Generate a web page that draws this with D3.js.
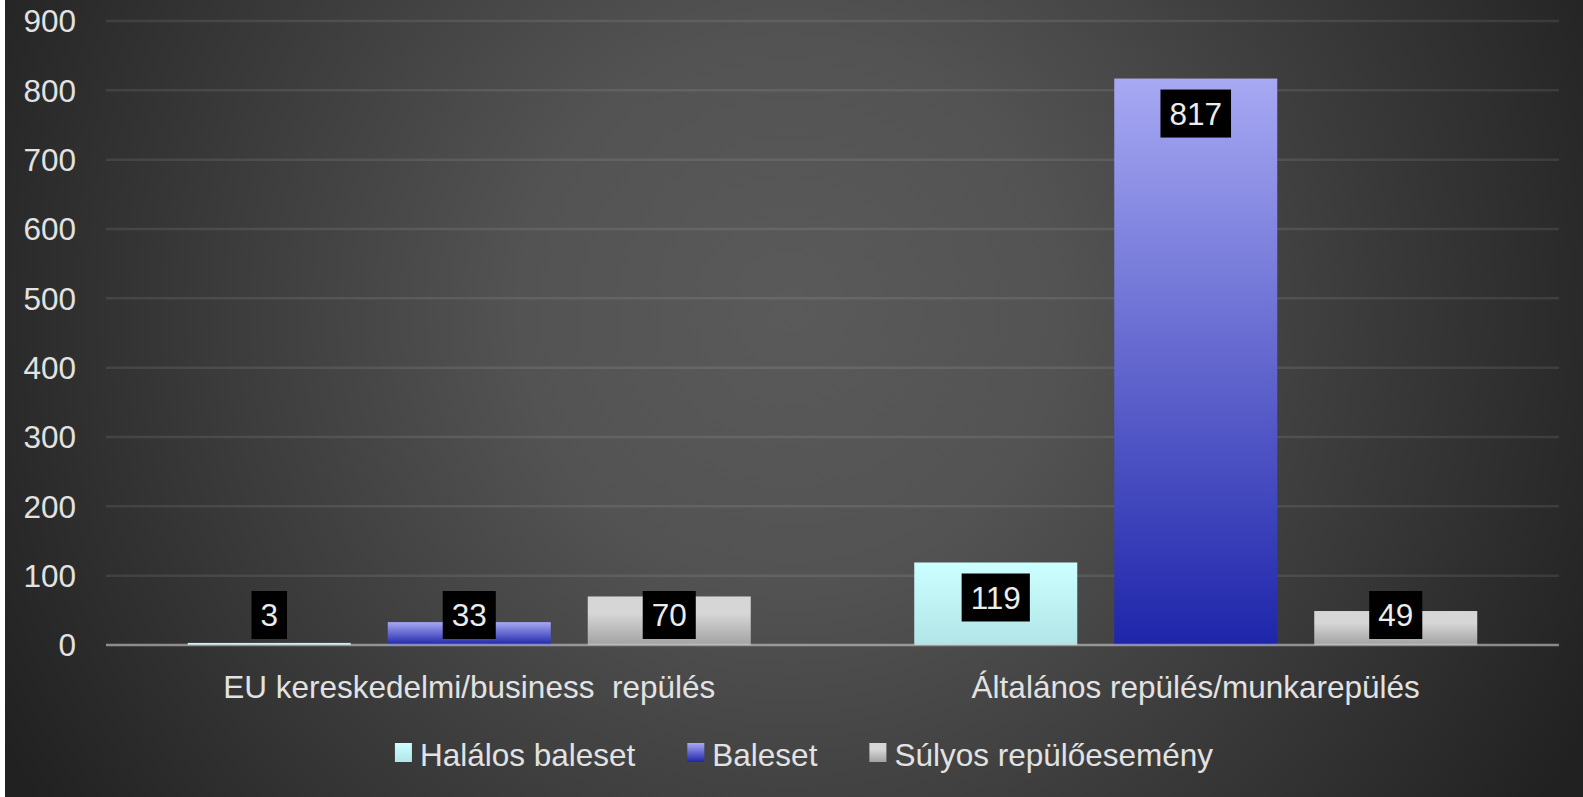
<html>
<head>
    <meta charset="utf-8">
    <script src="https://d3js.org/d3.v7.min.js"></script>
    <style>
        body { margin: 0; background: #ffffff; }
        text { font-family: "Liberation Sans", Arial, sans-serif; }
    </style>
</head>
<body>
    <svg id="chart" width="1583" height="797"></svg>
    <script>
        // chart values
        const categories = ["EU kereskedelmi/business  repülés", "Általános repülés/munkarepülés"];
        const seriesNames = ["Halálos baleset", "Baleset", "Súlyos repülőesemény"];
        const halalos = [3, 119];
        const baleset = [33, 817];
        const sulyos = [70, 49];
        const yTicks = [0, 100, 200, 300, 400, 500, 600, 700, 800, 900];

        const seriesValues = [halalos, baleset, sulyos];
        const gradients = [
            ["#ccffff", "#b2e5e7"],
            ["#a7a9f3", "#1e25aa"],
            ["#d6d6d6", "#a2a2a2"]
        ];
        const fontSize = 31.5;

        const svg = d3.select("#chart");
        const defs = svg.append("defs");

        // background radial gradient
        const bg = defs.append("radialGradient").attr("id", "bg")
            .attr("gradientUnits", "userSpaceOnUse")
            .attr("cx", 790).attr("cy", 310).attr("r", 900);
        bg.append("stop").attr("offset", 0).attr("stop-color", "#5a5a5a");
        bg.append("stop").attr("offset", 0.3).attr("stop-color", "#535353");
        bg.append("stop").attr("offset", 0.65).attr("stop-color", "#3a3a3a");
        bg.append("stop").attr("offset", 1).attr("stop-color", "#212121");

        gradients.forEach((g, i) => {
            const lg = defs.append("linearGradient").attr("id", "bar" + i)
                .attr("x1", 0).attr("y1", 0).attr("x2", 0).attr("y2", 1);
            lg.append("stop").attr("offset", 0).attr("stop-color", g[0]);
            lg.append("stop").attr("offset", i === 2 ? 0.35 : 0).attr("stop-color", g[0]);
            lg.append("stop").attr("offset", 1).attr("stop-color", g[1]);
        });

        svg.append("rect").attr("x", 5).attr("y", 0).attr("width", 1578).attr("height", 797)
            .attr("fill", "url(#bg)");

        const plotLeft = 106, plotRight = 1559, plotTop = 21, plotBottom = 645;

        const x0 = d3.scaleBand().domain(categories).range([plotLeft, plotRight]);
        const x1 = d3.scaleBand().domain(d3.range(3))
            .range([81.75, x0.bandwidth() - 81.75]).paddingInner(0.185);
        const y = d3.scaleLinear().domain([0, 900]).range([plotBottom, plotTop]);

        // gridlines
        svg.append("g").selectAll("line").data(yTicks.filter(d => d > 0)).join("line")
            .attr("x1", plotLeft).attr("x2", plotRight)
            .attr("y1", d => y(d)).attr("y2", d => y(d))
            .attr("stroke", "rgba(255,255,255,0.09)").attr("stroke-width", 2.5);

        // y tick labels
        svg.append("g").selectAll("text").data(yTicks).join("text")
            .attr("x", 76).attr("y", d => y(d))
            .attr("dy", "0.36em")
            .attr("text-anchor", "end")
            .attr("font-size", fontSize)
            .attr("fill", "#e2e2e2")
            .text(d => d);

        // bars
        const points = [];
        categories.forEach((c, ci) => {
            seriesValues.forEach((vals, si) => {
                points.push({ cat: c, s: si, v: vals[ci] });
            });
        });

        const barG = svg.append("g");
        barG.selectAll("rect").data(points).join("rect")
            .attr("x", d => x0(d.cat) + x1(d.s))
            .attr("width", x1.bandwidth())
            .attr("y", d => y(d.v))
            .attr("height", d => y(0) - y(d.v))
            .attr("fill", d => "url(#bar" + d.s + ")");

        // axis line
        svg.append("line").attr("x1", plotLeft).attr("x2", plotRight)
            .attr("y1", y(0)).attr("y2", y(0))
            .attr("stroke", "rgba(205,205,205,0.6)").attr("stroke-width", 2.5);

        // data labels (inside end, clamped above the axis)
        const lab = svg.append("g").selectAll("g").data(points).join("g");
        lab.each(function (d) {
            const g = d3.select(this);
            const cx = x0(d.cat) + x1(d.s) + x1.bandwidth() / 2;
            const boxTop = Math.min(y(d.v) + 11, y(0) - 54);
            const t = g.append("text")
                .attr("x", cx).attr("y", boxTop + 24).attr("dy", "0.36em")
                .attr("text-anchor", "middle").attr("font-size", fontSize)
                .attr("fill", "#ececec").text(d.v);
            const w = t.node().getComputedTextLength() + 18;
            g.insert("rect", "text").attr("x", cx - w / 2).attr("y", boxTop)
                .attr("width", w).attr("height", 48).attr("fill", "#000");
        });

        // category labels
        svg.append("g").selectAll("text").data(categories).join("text")
            .attr("x", d => x0(d) + x0.bandwidth() / 2)
            .attr("y", 698)
            .attr("text-anchor", "middle")
            .attr("font-size", fontSize)
            .attr("fill", "#e2e2e2")
            .style("white-space", "pre")
            .text(d => d);

        // legend
        const legend = svg.append("g");
        let lx = 0;
        seriesNames.forEach((name, i) => {
            const item = legend.append("g").attr("transform", `translate(${lx},0)`);
            item.append("rect").attr("x", 0).attr("y", 743).attr("width", 17).attr("height", 19)
                .attr("fill", "url(#bar" + i + ")");
            const t = item.append("text").attr("x", 25).attr("y", 766)
                .attr("font-size", fontSize).attr("fill", "#e2e2e2").text(name);
            lx += 25 + t.node().getComputedTextLength() + 52;
        });
        const legendW = lx - 52;
        legend.attr("transform", `translate(${804 - legendW / 2},0)`);
    </script>
</body>
</html>
